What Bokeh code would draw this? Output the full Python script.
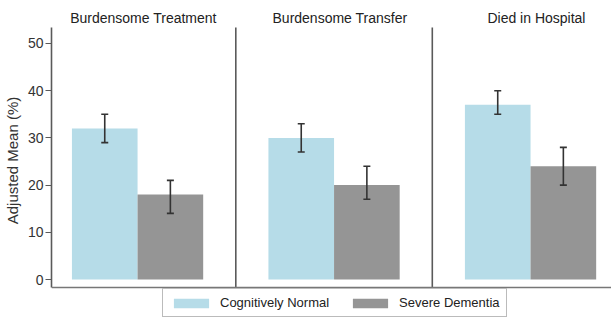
from bokeh.plotting import figure
from bokeh.models import (ColumnDataSource, Range1d, Span, Label, Legend, LegendItem,
                          Whisker, TeeHead, FixedTicker)
from bokeh.embed import file_html
from bokeh.resources import INLINE

# ---- data ----
panels = ["Burdensome Treatment", "Burdensome Transfer", "Died in Hospital"]
groups = ["Cognitively Normal", "Severe Dementia"]
cn_mean = [32, 30, 37]
cn_lo = [29, 27, 35]
cn_hi = [35, 33, 40]
sd_mean = [18, 20, 24]
sd_lo = [14, 17, 20]
sd_hi = [21, 24, 28]
y_ticks = [0, 10, 20, 30, 40, 50]

# ---- styles / layout ----
C_CN = "#b6dce8"
C_SD = "#959595"
AX = "#5a5a5a"
TXT = "#333333"
FONT = "Liberation Sans"
BW = 0.334
Y_LO, Y_TOP = -1.695, 53.39      # extent of the panel area
Y_START, Y_END = -8.686, 59.11   # view range (room for titles and legend)
Y_TITLE = 55.4

centers = list(range(len(panels)))
cn_x = [c - BW / 2 for c in centers]
sd_x = [c + BW / 2 for c in centers]

src_cn = ColumnDataSource(dict(x=cn_x, top=cn_mean, lo=cn_lo, hi=cn_hi))
src_sd = ColumnDataSource(dict(x=sd_x, top=sd_mean, lo=sd_lo, hi=sd_hi))

p = figure(width=611, height=320, output_backend="svg", toolbar_location=None,
           x_range=Range1d(-0.438, 2.412), y_range=Range1d(Y_START, Y_END),
           min_border_left=51, min_border_right=0, min_border_top=0, min_border_bottom=0)
p.outline_line_color = None
p.grid.visible = False
p.xaxis.visible = False
p.background_fill_color = "white"
p.border_fill_color = "white"

r_cn = p.vbar(x="x", top="top", bottom=0, width=BW, source=src_cn,
              fill_color=C_CN, line_color=None)
r_sd = p.vbar(x="x", top="top", bottom=0, width=BW, source=src_sd,
              fill_color=C_SD, line_color=None)

for src in (src_cn, src_sd):
    w = Whisker(base="x", lower="lo", upper="hi", source=src, level="overlay",
                line_color="#333333", line_width=1.6,
                upper_head=TeeHead(size=7, line_color="#333333", line_width=1.6),
                lower_head=TeeHead(size=7, line_color="#333333", line_width=1.6))
    p.add_layout(w)

# separators between panels
sep_x = [c + 0.5 for c in centers[:-1]]
p.segment(x0=sep_x, x1=sep_x, y0=[Y_LO] * len(sep_x), y1=[Y_TOP] * len(sep_x),
          line_color=AX, line_width=1.6)
# baseline
p.add_layout(Span(location=Y_LO, dimension="width", line_color="#777777", line_width=1.6))

# panel titles
for c, t in zip(centers, panels):
    p.add_layout(Label(x=c + 0.03, y=Y_TITLE, text=t, text_align="center",
                       text_baseline="middle", text_font=FONT, text_font_size="14px",
                       text_color="#222222"))

# y axis
p.yaxis.bounds = (Y_LO, Y_TOP)
p.yaxis.ticker = FixedTicker(ticks=y_ticks)
p.yaxis.axis_label = "Adjusted Mean (%)"
p.yaxis.axis_label_text_font = FONT
p.yaxis.axis_label_text_font_size = "15px"
p.yaxis.axis_label_text_font_style = "normal"
p.yaxis.axis_label_text_color = TXT
p.yaxis.axis_label_standoff = 4
p.yaxis.major_label_text_font = FONT
p.yaxis.major_label_text_font_size = "14px"
p.yaxis.major_label_text_color = TXT
p.yaxis.major_label_standoff = 2
p.yaxis.major_tick_out = 6
p.yaxis.major_tick_in = 0
p.yaxis.minor_tick_line_color = None
p.yaxis.axis_line_color = AX
p.yaxis.axis_line_width = 1.6
p.yaxis.major_tick_line_color = AX

legend = Legend(items=[LegendItem(label=groups[0], renderers=[r_cn]),
                       LegendItem(label=groups[1], renderers=[r_sd])],
                orientation="horizontal", location=(111, 3),
                glyph_width=44, glyph_height=12, label_height=12,
                label_standoff=7, spacing=19, padding=6, margin=0,
                label_text_font=FONT, label_text_font_size="13px",
                label_text_color="#222222",
                border_line_color="#777777", border_line_width=1.2,
                background_fill_alpha=1.0)
p.add_layout(legend)

open("out.html", "w").write(file_html(p, INLINE))
